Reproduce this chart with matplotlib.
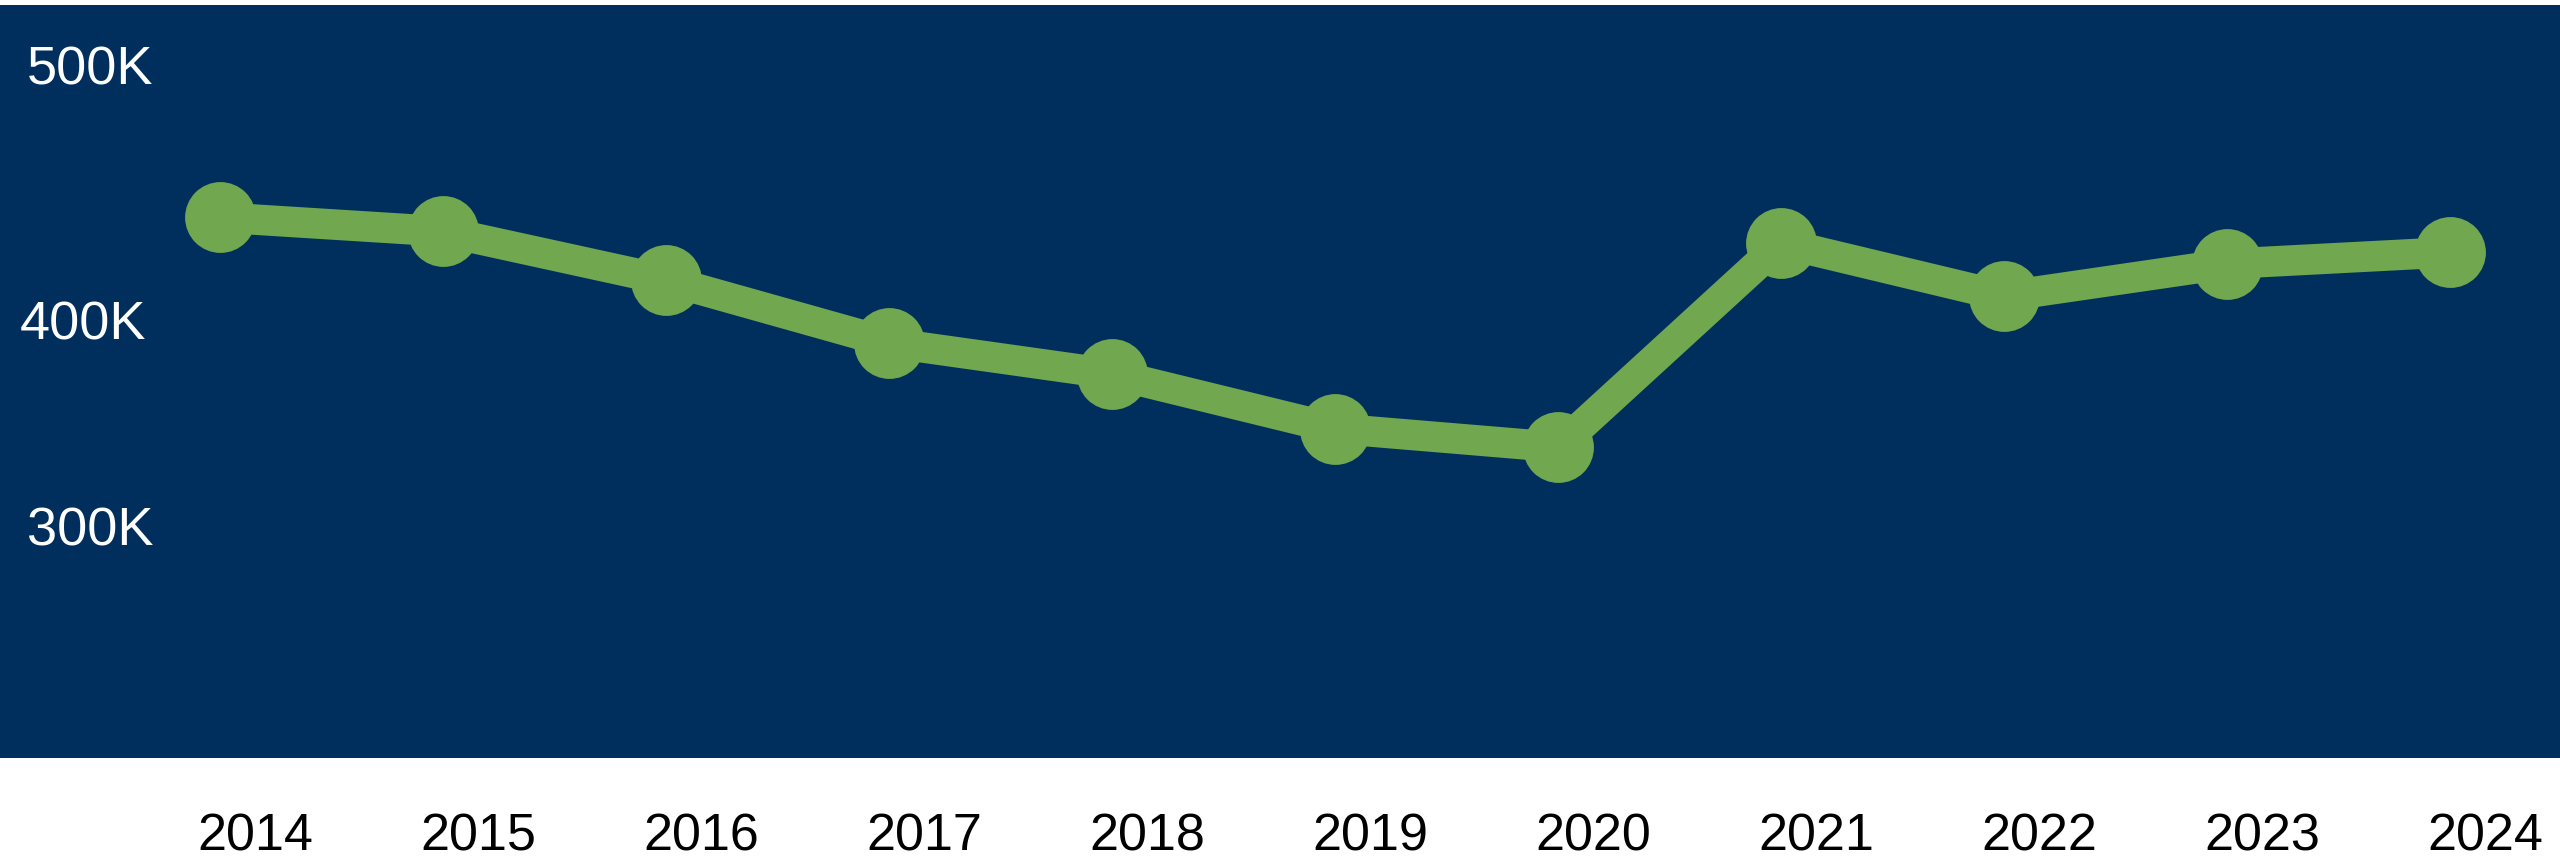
import matplotlib
matplotlib.use("Agg")
import matplotlib.pyplot as plt
from matplotlib.transforms import ScaledTranslation

# data (values in thousands)
years = [2014, 2015, 2016, 2017, 2018, 2019, 2020, 2021, 2022, 2023, 2024]
values_k = [433, 427, 406, 379, 365.5, 342, 334, 422, 399, 413, 418]
ytick_values = [300000, 400000, 500000]
ytick_labels = ["300K", "400K", "500K"]

navy = "#002F5E"
green = "#71A74F"

plt.rcParams['font.family'] = ['Liberation Sans', 'DejaVu Sans']

fig = plt.figure(figsize=(25.6, 8.61), dpi=100)
ax = fig.add_axes([0, 103 / 861, 1, 753 / 861])
ax.set_facecolor(navy)
for s in ax.spines.values():
    s.set_visible(False)

vals = [v * 1000 for v in values_k]
ax.plot(years, vals, color=green, linewidth=22, marker="o",
        markersize=51, markerfacecolor=green, markeredgewidth=0,
        solid_capstyle="butt", solid_joinstyle="round")

ax.set_xlim(2013.013, 2024.493)
ax.set_ylim(200000, 524570)

ax.set_xticks(years)
ax.set_xticklabels([str(y) for y in years])
ax.set_yticks(ytick_values)
ax.set_yticklabels(ytick_labels)

ax.tick_params(axis="x", length=0, pad=39.5, labelsize=37.5, labelcolor="black")
ax.tick_params(axis="y", length=0, pad=-19.5, labelsize=39, labelcolor="white")

# x labels sit a bit right of the points in the original
for lab in ax.get_xticklabels():
    lab.set_transform(lab.get_transform() + ScaledTranslation(0.35, 0, fig.dpi_scale_trans))
for lab in ax.get_yticklabels():
    lab.set_horizontalalignment("left")
    if lab.get_text() == "400K":
        lab.set_transform(lab.get_transform() + ScaledTranslation(-0.07, -0.26, fig.dpi_scale_trans))
    elif lab.get_text() == "500K":
        lab.set_transform(lab.get_transform() + ScaledTranslation(0, -0.03, fig.dpi_scale_trans))

fig.savefig("out.png", dpi=100, facecolor="white")
